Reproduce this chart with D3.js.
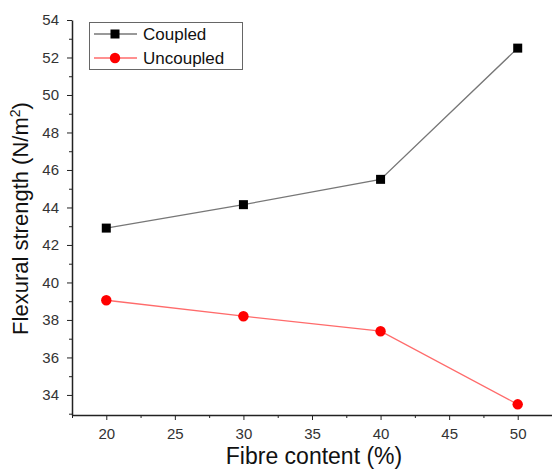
<!DOCTYPE html>
<html>
<head>
<meta charset="utf-8">
<script src="https://cdn.jsdelivr.net/npm/d3@7"></script>
<style>
  body { margin: 0; background: #fff; }
  svg { font-family: Arial, "Liberation Sans", sans-serif; }
  .axis text { fill: #333; font-size: 15px; }
  .axis line, .axis path { stroke: #222; }
</style>
</head>
<body>
<script>
// Data
const FIBRE     = [20, 30, 40, 50];
const COUPLED   = [42.9, 44.15, 45.5, 52.5];
const UNCOUPLED = [39.05, 38.2, 37.4, 33.5];
const SERIES_NAMES = ["Coupled", "Uncoupled"];
const X_TICKS = [20, 25, 30, 35, 40, 45, 50];
const Y_TICKS = [34, 36, 38, 40, 42, 44, 46, 48, 50, 52, 54];

// Figure
const W = 552, H = 470;
const margin = { top: 20, right: 0, bottom: 55, left: 72 };

const svg = d3.select("body").append("svg")
  .attr("width", W)
  .attr("height", H);

const x = d3.scaleLinear().domain([17.5, 52.5]).range([margin.left, W - margin.right]);
const y = d3.scaleLinear().domain([32.93, 54]).range([H - margin.bottom, margin.top]);

// Minor ticks
const xMinor = d3.range(17.5, 52.6, 2.5).filter(v => !X_TICKS.includes(v));
const yMinor = d3.range(33, 54.1, 1).filter(v => !Y_TICKS.includes(v));

svg.append("g")
  .attr("class", "axis")
  .attr("transform", `translate(0,${y.range()[0]})`)
  .call(d3.axisBottom(x).tickValues(xMinor).tickSize(3).tickFormat(""))
  .call(g => g.select(".domain").remove());
svg.append("g")
  .attr("class", "axis")
  .attr("transform", `translate(0,${y.range()[0]})`)
  .call(d3.axisBottom(x).tickValues(X_TICKS).tickSize(5).tickSizeOuter(0).tickPadding(8));

svg.append("g")
  .attr("class", "axis")
  .attr("transform", `translate(${x.range()[0]},0)`)
  .call(d3.axisLeft(y).tickValues(yMinor).tickSize(3).tickFormat(""))
  .call(g => g.select(".domain").remove());
svg.append("g")
  .attr("class", "axis")
  .attr("transform", `translate(${x.range()[0]},0)`)
  .call(d3.axisLeft(y).tickValues(Y_TICKS).tickSize(5).tickSizeOuter(0).tickPadding(8));

svg.selectAll(".axis .domain").attr("stroke-width", 1.5);

// Axis titles
svg.append("text")
  .attr("x", 314).attr("y", 464)
  .attr("text-anchor", "middle")
  .attr("font-size", 23)
  .attr("fill", "#111")
  .text("Fibre content (%)");

const yt = svg.append("text")
  .attr("transform", `translate(28,${(97 + 340) / 2}) rotate(-90)`)
  .attr("text-anchor", "middle")
  .attr("font-size", 22)
  .attr("fill", "#111");
yt.append("tspan").text("Flexural strength (N/m");
yt.append("tspan").attr("font-size", 14).attr("dy", -8).text("2");
yt.append("tspan").attr("dy", 8).text(")");

// Lines
const line = d3.line().x((d, i) => x(FIBRE[i])).y(d => y(d));

svg.append("path")
  .datum(COUPLED)
  .attr("fill", "none")
  .attr("stroke", "#777")
  .attr("stroke-width", 1.3)
  .attr("d", line);
svg.append("path")
  .datum(UNCOUPLED)
  .attr("fill", "none")
  .attr("stroke", "#ff6b6b")
  .attr("stroke-width", 1.3)
  .attr("d", line);

svg.selectAll(".sq")
  .data(COUPLED)
  .join("rect")
  .attr("class", "sq")
  .attr("x", (d, i) => x(FIBRE[i]) - 4.5)
  .attr("y", d => y(d) - 4.5)
  .attr("width", 9).attr("height", 9)
  .attr("fill", "#000");

svg.selectAll(".dot")
  .data(UNCOUPLED)
  .join("circle")
  .attr("class", "dot")
  .attr("cx", (d, i) => x(FIBRE[i]))
  .attr("cy", d => y(d))
  .attr("r", 5.2)
  .attr("fill", "#f00");

// Legend
const legend = svg.append("g");
legend.append("rect")
  .attr("x", 89.5).attr("y", 22.5)
  .attr("width", 153).attr("height", 47)
  .attr("fill", "#fff")
  .attr("stroke", "#666")
  .attr("stroke-width", 1);

const legY = [34, 58];
const legColors = ["#777", "#ff6b6b"];
SERIES_NAMES.forEach((name, i) => {
  legend.append("line")
    .attr("x1", 94).attr("x2", 137)
    .attr("y1", legY[i]).attr("y2", legY[i])
    .attr("stroke", legColors[i])
    .attr("stroke-width", 1.3);
  if (i === 0) {
    legend.append("rect")
      .attr("x", 115 - 4.5).attr("y", legY[i] - 4.5)
      .attr("width", 9).attr("height", 9)
      .attr("fill", "#000");
  } else {
    legend.append("circle")
      .attr("cx", 115).attr("cy", legY[i])
      .attr("r", 5.2)
      .attr("fill", "#f00");
  }
  legend.append("text")
    .attr("x", 143).attr("y", legY[i] + 6)
    .attr("font-size", 17)
    .attr("fill", "#111")
    .text(name);
});
</script>
</body>
</html>
